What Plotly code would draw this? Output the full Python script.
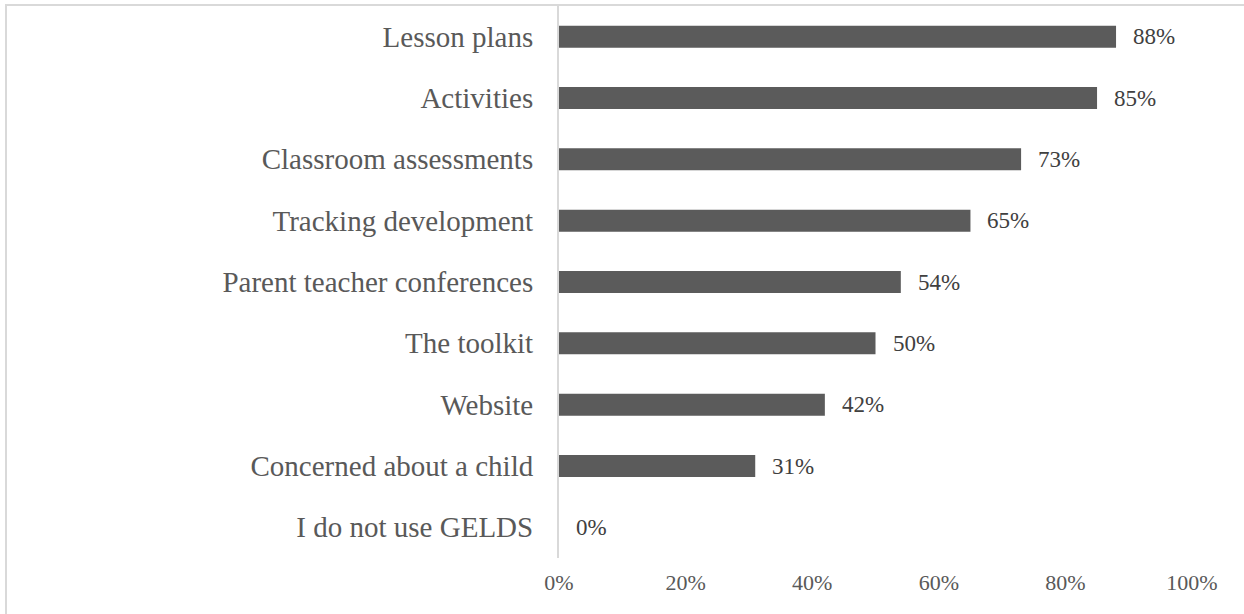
import plotly.graph_objects as go

# Reported uses of the standards, share of respondents
categories = [
    "Lesson plans",
    "Activities",
    "Classroom assessments",
    "Tracking development",
    "Parent teacher conferences",
    "The toolkit",
    "Website",
    "Concerned about a child",
    "I do not use GELDS",
]
shares = [0.88, 0.85, 0.73, 0.65, 0.54, 0.50, 0.42, 0.31, 0.00]
tick_values = [0, 0.2, 0.4, 0.6, 0.8, 1.0]
tick_labels = ["0%", "20%", "40%", "60%", "80%", "100%"]

W, H = 1244, 614
ML, MR, MT, MB = 559, 52, 6, 56
plot_w = W - ML - MR
plot_h = H - MT - MB

BAR = "#5b5b5b"
TXT = "#595959"
LINE = "#d9d9d9"
FONT = "Liberation Serif, Times New Roman, serif"

fig = go.Figure(
    go.Bar(
        x=shares,
        y=categories,
        orientation="h",
        marker=dict(color=BAR, line=dict(width=0)),
        hoverinfo="skip",
    )
)

# value labels just past the end of each bar
for cat, val in zip(categories, shares):
    fig.add_annotation(
        x=val, y=cat, xref="x", yref="y",
        text=f"{val:.0%}", showarrow=False,
        xanchor="left", yanchor="middle", xshift=15,
        font=dict(family=FONT, size=23, color="#404040"),
    )

# chart frame (left and top edges fall inside the page)
def px_to_paper_x(px):
    return (px - ML) / plot_w

def px_to_paper_y(py):
    return (H - MB - py) / plot_h

fig.add_shape(
    type="rect", xref="paper", yref="paper",
    x0=px_to_paper_x(6), x1=px_to_paper_x(W + 20),
    y0=px_to_paper_y(H + 20), y1=px_to_paper_y(5),
    line=dict(color=LINE, width=2), fillcolor="rgba(0,0,0,0)", layer="below",
)

fig.update_layout(
    width=W, height=H,
    margin=dict(l=ML, r=MR, t=MT, b=MB, pad=0),
    paper_bgcolor="white", plot_bgcolor="white",
    bargap=0.64,
    showlegend=False,
    xaxis=dict(
        range=[0, 1.0], tickvals=tick_values, ticktext=tick_labels,
        showgrid=False, zeroline=False, showline=False,
        ticks="", tickfont=dict(family=FONT, size=22, color=TXT),
        ticklabelstandoff=9,
    ),
    yaxis=dict(
        autorange="reversed", showgrid=False, zeroline=False,
        showline=True, linecolor=LINE, linewidth=2,
        ticks="", tickfont=dict(family=FONT, size=29, color=TXT),
        ticklabelstandoff=18,
    ),
)

fig.write_html("out.html")
